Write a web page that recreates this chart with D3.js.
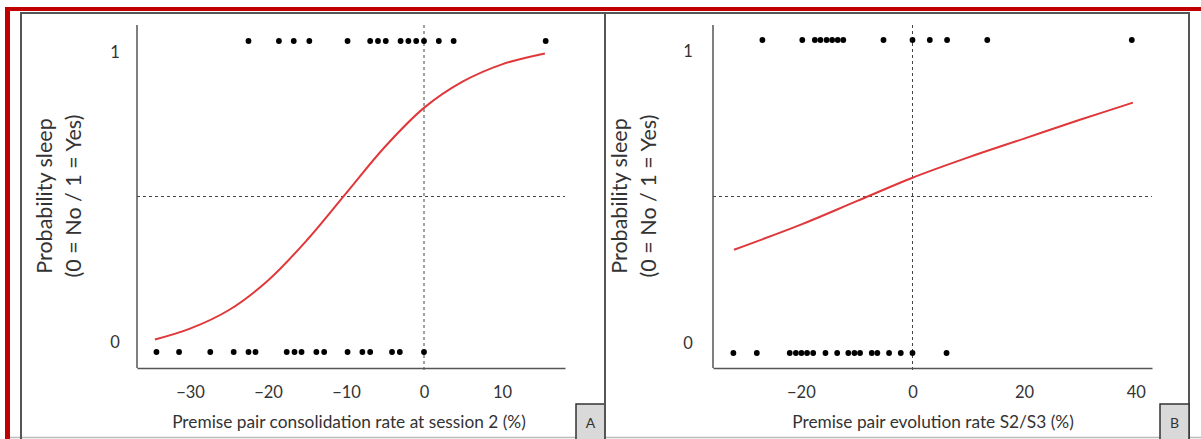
<!DOCTYPE html>
<html><head><meta charset="utf-8">
<script src="https://cdn.jsdelivr.net/npm/d3@7"></script>
<style>body{margin:0;background:#fff;} svg{display:block;} text{font-family:Lato,"Open Sans",sans-serif;fill:#333;}</style>
</head><body>
<svg id="c" width="1201" height="439"></svg>
<script>
// Panel A data
const aTicks = [-30, -20, -10, 0, 10];
const aYes = [-22.5, -18.6, -16.7, -14.7, -9.8, -6.9, -5.9, -4.9, -3.0, -2.0, -1.0, 0, 1.9, 3.8, 15.6];
const aNo = [-34.3, -31.4, -27.4, -24.4, -22.5, -21.6, -17.6, -16.6, -15.7, -13.8, -12.8, -9.8, -7.9, -6.9, -4.1, -3.1, 0];
const aCurveX = [-34.5, -30, -25, -20, -15, -10, -5, 0, 5, 10, 15.5];
const aCurveP = [0.04, 0.075, 0.135, 0.23, 0.36, 0.51, 0.66, 0.785, 0.87, 0.925, 0.96];
// Panel B data
const bTicks = [-20, 0, 20, 40];
const bYes = [-26.9, -19.75, -17.5, -16.5, -15.4, -14.4, -13.4, -12.4, -5.2, 0, 3.1, 6.2, 13.4, 39.3];
const bNo = [-32.1, -27.9, -22.0, -20.9, -19.9, -18.9, -17.8, -15.6, -13.5, -11.5, -10.4, -9.4, -7.3, -6.3, -4.2, -2.1, 0, 6.1];
const bCurveX = [-32, -20, -10, 0, 10, 20, 30, 39.5];
const bCurveP = [0.33, 0.41, 0.485, 0.56, 0.625, 0.685, 0.745, 0.80];

const svg = d3.select("#c");

// outer red frame
svg.append("rect").attr("x",5).attr("y",7).attr("width",1196).attr("height",4).attr("fill","#c00000");
svg.append("rect").attr("x",5).attr("y",7).attr("width",5).attr("height",432).attr("fill","#c00000");
svg.append("line").attr("x1",10).attr("x2",1201).attr("y1",437.5).attr("y2",437.5).attr("stroke","#bbb").attr("stroke-width",1.5);

function panel(o){
  const g = svg.append("g");
  g.append("rect").attr("x",o.bx0).attr("y",13).attr("width",o.bx1-o.bx0).attr("height",440)
    .attr("fill","none").attr("stroke","#555").attr("stroke-width",2);
  const x = d3.scaleLinear().domain(o.xdom).range([o.x0, o.x1]);
  const y = d3.scaleLinear().domain([0,1]).range([o.y0, o.y1]);
  const top = 25, bottom = 368;
  g.append("line").attr("x1",x(0)).attr("x2",x(0)).attr("y1",top).attr("y2",bottom+3)
    .attr("stroke","#444").attr("stroke-width",1).attr("stroke-dasharray","3,3");
  g.append("line").attr("x1",o.x0).attr("x2",o.x1).attr("y1",y(0.5)).attr("y2",y(0.5))
    .attr("stroke","#444").attr("stroke-width",1).attr("stroke-dasharray","3,3");
  g.append("line").attr("x1",o.x0).attr("x2",o.x0).attr("y1",top).attr("y2",bottom)
    .attr("stroke","#555").attr("stroke-width",1.5);
  const ax = d3.axisBottom(x).tickValues(o.ticks).tickSize(0).tickPadding(0).tickFormat(d3.format("d"));
  const axg = g.append("g").attr("transform",`translate(0,${bottom})`).call(ax);
  axg.select(".domain").attr("stroke","#555").attr("stroke-width",1.5);
  axg.selectAll("text").attr("y",30).attr("dy",0).style("font-size","16.5px").style("font-family","Lato").attr("fill","#333");
  const yl = d3.axisLeft(y).tickValues([0,1]).tickSize(0).tickFormat(d3.format("d"));
  const ylg = g.append("g").attr("transform",`translate(${o.ylx},0)`).call(yl);
  ylg.select(".domain").remove();
  ylg.selectAll("text").attr("x",0).attr("text-anchor","middle").style("font-size","16.5px").style("font-family","Lato").attr("fill","#333")
    .attr("dy", d => d===1 ? "1.0em" : "-0.25em");
  const line = d3.line().x(d=>x(d[0])).y(d=>y(d[1])).curve(d3.curveCatmullRom);
  g.append("path").datum(o.cx.map((v,i)=>[v,o.cp[i]])).attr("d",line)
    .attr("fill","none").attr("stroke","#e0383a").attr("stroke-width",2);
  g.selectAll(".y1").data(o.yes).join("circle").attr("cx",d=>x(d)).attr("cy",y(1)).attr("r",2.9).attr("fill","#000");
  g.selectAll(".y0").data(o.no).join("circle").attr("cx",d=>x(d)).attr("cy",y(0)).attr("r",2.9).attr("fill","#000");
  const t = g.append("text").attr("transform",`translate(${o.ytx},196) rotate(-90)`).attr("text-anchor","middle").style("font-size","21.5px");
  t.append("tspan").attr("x",0).attr("dy",0).text("Probability sleep");
  t.append("tspan").attr("x",0).attr("dy",29).text("(0 = No / 1 = Yes)");
  g.append("text").attr("x",o.xtx).attr("y",428).attr("text-anchor","middle").style("font-size","17.3px").text(o.xtitle);
  g.append("rect").attr("x",o.bx1-29).attr("y",404).attr("width",29).attr("height",40)
    .attr("fill","#d9d9d9").attr("stroke","#333").attr("stroke-width",1.5);
  g.append("text").attr("x",o.bx1-14.5).attr("y",428).attr("text-anchor","middle").style("font-size","14px").text(o.letter);
}

panel({bx0:21, bx1:605, x0:137, x1:565, xdom:[(137-424)/7.8,(565-424)/7.8], y0:352, y1:41,
  ticks:aTicks, yes:aYes, no:aNo, cx:aCurveX, cp:aCurveP, ylx:115, ytx:52, xtx:349,
  xtitle:"Premise pair consolidation rate at session 2 (%)", letter:"A"});
panel({bx0:605, bx1:1189, x0:713, x1:1152, xdom:[(713-912.5)/5.58,(1152-912.5)/5.58], y0:353, y1:40,
  ticks:bTicks, yes:bYes, no:bNo, cx:bCurveX, cp:bCurveP, ylx:688, ytx:627, xtx:933,
  xtitle:"Premise pair evolution rate S2/S3 (%)", letter:"B"});
</script>
</body></html>
